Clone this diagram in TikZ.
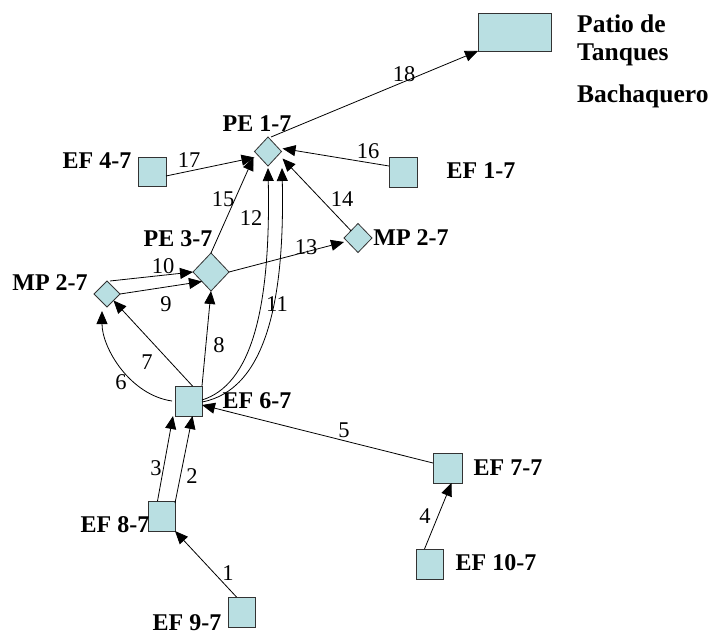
\documentclass[tikz,border=0pt]{standalone}
\usepackage{fontspec}
\setmainfont{Liberation Serif}
\usetikzlibrary{shapes.geometric,arrows.meta}
\definecolor{boxfill}{HTML}{B9DFE2}
\definecolor{boxline}{HTML}{333333}
\tikzset{
  sq/.style={rectangle,draw=boxline,fill=boxfill,line width=0.8pt,inner sep=0pt,outer sep=0pt},
  dia/.style={diamond,draw=boxline,fill=boxfill,line width=0.8pt,inner sep=0pt,outer sep=0pt},
  lbl/.style={font=\fontsize{24}{28}\selectfont\bfseries,inner sep=0pt,anchor=base},
  plbl/.style={font=\fontsize{25.5}{30}\selectfont\bfseries,inner sep=0pt,anchor=base west},
  num/.style={font=\fontsize{22.5}{26}\selectfont,inner sep=0pt},
  con/.style={line width=0.8pt,-{Triangle[length=13pt,width=11pt]}}
}
\begin{document}
\begin{tikzpicture}[x=1pt,y=-1pt]
\useasboundingbox (0,0) rectangle (717,634);
% nodes
\node[sq,minimum width=73pt,minimum height=38pt] (patio) at (514.5,32) {};
\node[dia,minimum width=27pt,minimum height=29pt] (pe1) at (268,151.5) {};
\node[sq,minimum width=28pt,minimum height=30pt] (ef1) at (403,172) {};
\node[sq,minimum width=28pt,minimum height=29pt] (ef4) at (152,171.5) {};
\node[dia,minimum width=28pt,minimum height=29pt] (mpr) at (358,238) {};
\node[dia,minimum width=36pt,minimum height=38pt] (pe3) at (211,272) {};
\node[dia,minimum width=26pt,minimum height=26pt] (mpl) at (107,294) {};
\node[sq,minimum width=27pt,minimum height=30pt] (ef6) at (188.5,401) {};
\node[sq,minimum width=29pt,minimum height=30pt] (ef7) at (447.5,468) {};
\node[sq,minimum width=27pt,minimum height=30pt] (ef10) at (429.5,564) {};
\node[sq,minimum width=27pt,minimum height=30pt] (ef8) at (161.5,516) {};
\node[sq,minimum width=27pt,minimum height=30pt] (ef9) at (241.5,612) {};
% node labels
\node[plbl] (tpatio) at (577,33) {Patio de};
\node[plbl] (ttanq) at (577,60) {Tanques};
\node[plbl] (tbach) at (577,102) {Bachaquero};
\node[lbl] (tpe1) at (257,131) {PE 1-7};
\node[lbl] (tef1) at (481,178) {EF 1-7};
\node[lbl] (tef4) at (97,168) {EF 4-7};
\node[lbl] (tpe3) at (178,246) {PE 3-7};
\node[lbl] (tmpl) at (50,290) {MP 2-7};
\node[lbl] (tmpr) at (411,245) {MP 2-7};
\node[lbl] (tef6) at (257,408) {EF 6-7};
\node[lbl] (tef7) at (508,475) {EF 7-7};
\node[lbl] (tef10) at (496,570) {EF 10-7};
\node[lbl] (tef8) at (115,532) {EF 8-7};
\node[lbl] (tef9) at (187,630) {EF 9-7};
% connectors
\draw[con] ([xshift=-5pt]ef9.north) -- (ef8.south east);
\draw[con] ([yshift=-2pt]ef8.north east) -- ([xshift=4pt]ef6.south);
\draw[con] ([xshift=-4pt]ef8.north) -- ([xshift=-2pt]ef6.south west);
\draw[con] ([xshift=-5pt]ef10.north) -- ([xshift=4pt]ef7.south);
\draw[con] ([yshift=5pt]ef7.west) -- ([yshift=-4pt]ef6.east);
\draw[con] ([xshift=-3pt]ef6.west) .. controls +(-42,-6) and +(0,37) .. ([xshift=-5pt,yshift=-4pt]mpl.south);
\draw[con] ([xshift=4pt]ef6.north) -- (mpl.south east);
\draw[con] (ef6.north east) -- (pe3.south);
\draw[con] (mpl.east) -- (pe3.south west);
\draw[con] ([xshift=3pt]mpl.north) -- (pe3.west);
\draw[con] ([yshift=-1pt]ef6.east) .. controls +(63,-12) and +(3,135) .. ([xshift=14pt,yshift=-2pt]pe1.south);
\draw[con] ([yshift=1pt]ef6.east) .. controls +(48,-15) and +(3,145) .. ([yshift=-2pt]pe1.south);
\draw[con] (pe3.east) -- ([yshift=-4pt]mpr.west);
\draw[con] (mpr.north west) -- ([xshift=1pt,yshift=-7pt]pe1.east);
\draw[con] (pe3.north) -- ([xshift=-1pt,yshift=-6pt]pe1.west);
\draw[con] ([yshift=6pt]ef1.west) -- ([xshift=1pt,yshift=3pt]pe1.east);
\draw[con] ([yshift=-4.5pt]ef4.east) -- ([yshift=-6pt]pe1.west);
\draw[con] ([xshift=3pt]pe1.north) -- (patio.south west);
% connector numbers
\node[num] (n1) at (228,573) {1};
\node[num] (n2) at (192,476) {2};
\node[num] (n3) at (156,468) {3};
\node[num] (n4) at (425,516) {4};
\node[num] (n5) at (344,430) {5};
\node[num] (n6) at (121,382) {6};
\node[num] (n7) at (147,362) {7};
\node[num] (n8) at (219,345) {8};
\node[num] (n9) at (166,304) {9};
\node[num] (n10) at (163,266) {10};
\node[num] (n11) at (277,304) {11};
\node[num] (n12) at (251,218) {12};
\node[num] (n13) at (306,247) {13};
\node[num] (n14) at (342,199) {14};
\node[num] (n15) at (223,199) {15};
\node[num] (n16) at (368,151) {16};
\node[num] (n17) at (189,160) {17};
\node[num] (n18) at (404,74) {18};
\end{tikzpicture}
\end{document}
